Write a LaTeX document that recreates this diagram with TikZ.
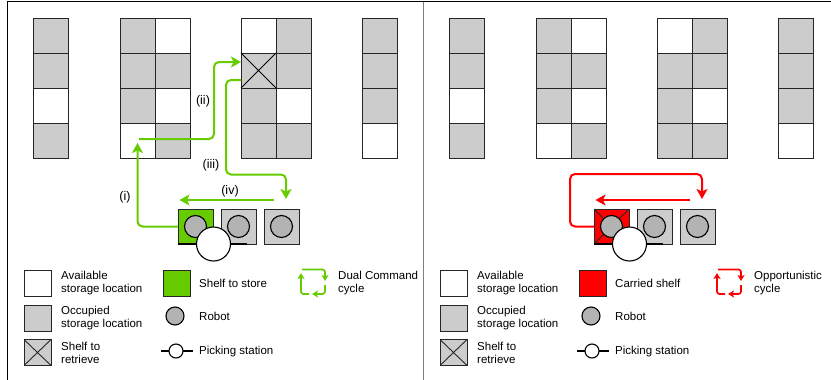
\documentclass[tikz,border=0pt]{standalone}
\usepackage{fontspec}
\setmainfont{Liberation Sans}
\usetikzlibrary{arrows.meta,calc}

\definecolor{occgray}{HTML}{CCCCCC}
\definecolor{robotgray}{HTML}{B3B3B3}
\definecolor{storegreen}{HTML}{66CC00}
\definecolor{carryred}{HTML}{FF0000}

\tikzset{
  cell/.style={draw=black!85, line width=0.8pt, minimum width=35, minimum height=35,
    inner sep=0pt, outer sep=0pt},
  freecell/.style={cell, fill=white},
  fullcell/.style={cell, fill=occgray},
  nocross/.style={},
  shelfcross/.style={path picture={
    \draw[line width=0.9pt] (path picture bounding box.north west) -- (path picture bounding box.south east)
      (path picture bounding box.north east) -- (path picture bounding box.south west);}},
  robot/.style={circle, draw, line width=1.1pt, fill=robotgray, minimum size=22, inner sep=0pt},
  station/.style={circle, draw, line width=1.1pt, fill=white, minimum size=34, inner sep=0pt},
  keybox/.style={draw=black!85, line width=0.8pt, minimum width=27, minimum height=26,
    inner sep=0pt, outer sep=0pt},
  keytext/.style={anchor=west, align=left, inner sep=0pt, font=\fontsize{11.5}{13}\selectfont},
  lbl/.style={inner sep=0pt, font=\fontsize{12.5}{14}\selectfont},
  route/.style={line width=2pt, rounded corners=5pt,
    -{Stealth[length=10pt,width=11pt,inset=2.5pt]}},
  cyc/.style={line width=1.7pt, rounded corners=2.5pt,
    -{Stealth[length=6pt,width=7pt,inset=1.5pt]}}
}

\begin{document}
\begin{tikzpicture}[x=1pt, y=-1pt]
  \useasboundingbox (0,0) rectangle (831,380);

  % frame and divider
  \draw[line width=0.8pt] (7,380) -- (7,1.5) -- (831,1.5);
  \draw[gray, line width=1pt] (423.5,1.5) -- (423.5,380);

  % both panels: racks, robots, station, key
  \foreach \p/\dx/\sfill/\sx/\skey/\ckey in {
      l/0/storegreen/nocross/{Shelf to store}/{Dual Command\\cycle},
      r/416/carryred/shelfcross/{Carried shelf}/{Opportunistic\\cycle}}{
  \begin{scope}[xshift=\dx]
    \foreach \c/\cx/\ra/\rb/\rc/\rd in {
        a/50.5/fullcell/fullcell/freecell/fullcell,
        b1/137.5/fullcell/fullcell/fullcell/freecell,
        b2/172.5/freecell/fullcell/freecell/fullcell,
        c1/258.5/freecell/fullcell/fullcell/fullcell,
        c2/293.5/fullcell/fullcell/freecell/fullcell,
        d/379.5/fullcell/fullcell/fullcell/freecell}{
      \node[\ra] (\p-\c-1) at (\cx,35.5) {};
      \node[\rb] (\p-\c-2) at (\cx,70.5) {};
      \node[\rc] (\p-\c-3) at (\cx,105.5) {};
      \node[\rd] (\p-\c-4) at (\cx,140.5) {};
    }

    % robot row
    \node[cell, fill=\sfill, \sx] (\p-s1) at (195.5,226.5) {};
    \node[fullcell] (\p-s2) at (238.5,226.5) {};
    \node[fullcell] (\p-s3) at (281.5,226.5) {};
    \node[robot] (\p-r1) at (\p-s1) {};
    \node[robot] (\p-r2) at (\p-s2) {};
    \node[robot] (\p-r3) at (\p-s3) {};
    \draw[line width=1.2pt] (\p-s1.south west) -- ++(69,0);
    \node[station] (\p-ps) at (213.5,244) {};

    % key
    \node[keybox, fill=white] (\p-k1) at (37.5,283) {};
    \node[keybox, fill=occgray] (\p-k2) at (37.5,318) {};
    \node[keybox, fill=occgray, shelfcross] (\p-k3) at (37.5,352.5) {};
    \node[keytext] (\p-t1) at (61,283.5) {Available\\storage location};
    \node[keytext] (\p-t2) at (61,318.5) {Occupied\\storage location};
    \node[keytext] (\p-t3) at (61,353) {Shelf to\\retrieve};

    \node[keybox, fill=\sfill] (\p-k4) at (176.5,283) {};
    \node[robot, minimum size=18] (\p-k5) at (175,316) {};
    \draw[line width=1.1pt] (161,351) -- (193,351);
    \node[circle, draw, line width=1.1pt, fill=white, minimum size=14, inner sep=0pt]
      (\p-k6) at (176,351) {};
    \node[keytext] (\p-t4) at (199,283.5) {\skey};
    \node[keytext] (\p-t5) at (199,316.5) {Robot};
    \node[keytext] (\p-t6) at (199,351.5) {Picking station};

    \draw[cyc, \sfill] (309,294) -| (301,273);
    \draw[cyc, \sfill] (302,269.5) -| (325,281);
    \draw[cyc, \sfill] (325,285) |- (312,294);
    \node[keytext] (\p-t7) at (338,283.5) {\ckey};
  \end{scope}
  }

  % shelf to retrieve, left panel
  \draw[line width=1pt] (l-c1-2.north west) -- (l-c1-2.south east)
    (l-c1-2.north east) -- (l-c1-2.south west);

  % dual command cycle
  \draw[route, storegreen] (l-s1.west) -| ($(l-b1-4.center)+(0,2.5)$);
  \draw[route, storegreen] ($(l-b1-4.center)+(1.5,-1.5)$) -| ($(l-c1-2.west)+(-27,-8.5)$)
    -- ($(l-c1-2.west)+(0,-8.5)$);
  \draw[route, storegreen] ($(l-c1-2.west)+(0,9.5)$) -| ($(l-c1-2.west)+(-15,104)$)
    -| ($(l-s3.north)+(4.5,-10)$);
  \draw[route, storegreen] ($(l-s3.north)+(-8,-9)$) -- ($(l-s1.north west)+(1.5,-9)$);
  \node[lbl] (l-i) at (125,197) {(i)};
  \node[lbl] (l-ii) at (203,101) {(ii)};
  \node[lbl] (l-iii) at (211,165) {(iii)};
  \node[lbl] (l-iv) at (230,191) {(iv)};

  % opportunistic cycle, right panel
  \draw[route, carryred] (r-s1.west) -| ($(r-s1.west)+(-24,-52.5)$)
    -| ($(r-s3.north)+(4.5,-10)$);
  \draw[route, carryred] ($(r-s3.north)+(-8,-9)$) -- ($(r-s1.north west)+(1.5,-9)$);
\end{tikzpicture}
\end{document}
